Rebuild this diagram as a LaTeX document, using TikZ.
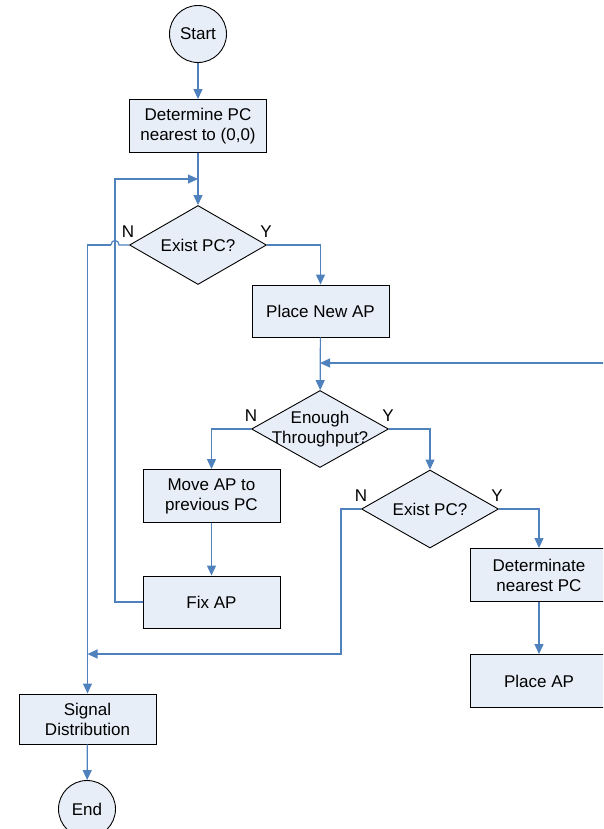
\documentclass[tikz,border=0pt]{standalone}
\usepackage{fontspec}
\setmainfont{Liberation Sans}
\usetikzlibrary{shapes.geometric,arrows.meta}
\definecolor{linkblue}{RGB}{79,129,189}
\definecolor{boxfill}{RGB}{232,238,248}

\begin{document}
\begin{tikzpicture}[x=1pt, y=-1pt,
    every node/.style={font=\fontsize{17}{20}\selectfont},
    proc/.style={draw, fill=boxfill, line width=0.9pt, rectangle, minimum width=137pt, minimum height=53pt, inner sep=0pt, align=center},
    terminal/.style={draw, fill=boxfill, line width=0.9pt, circle, minimum size=57pt, inner sep=0pt},
    decision/.style={draw, fill=boxfill, line width=0.9pt, diamond, minimum width=137pt, minimum height=79pt, inner sep=0pt},
    link/.style={draw=linkblue, line width=1.2pt, -{Triangle[length=10pt,width=9pt]}},
    plainlink/.style={draw=linkblue, line width=1.2pt}]

      \clip (0,0) rectangle (603,829);

      \node[terminal] (start) at (198,34) {Start};
      \node[proc] (det) at (198,126) {Determine PC\\nearest to (0,0)};
      \node[decision, label={center:Exist PC?}] (ex1) at (198,245) {};
      \node[proc, minimum height=52pt] (newap) at (320.5,311) {Place New AP};
      \node[decision, minimum height=77pt, label={[align=center]center:Enough\\Throughput?}] (enough) at (320,429) {};
      \node[proc] (move) at (211.5,496) {Move AP to\\previous PC};
      \node[proc, minimum height=52pt] (fix) at (211.5,602) {Fix AP};
      \node[decision, minimum height=78pt, label={center:Exist PC?}] (ex2) at (430,509) {};
      \node[proc] (detn) at (539,575) {Determinate\\nearest PC};
      \node[proc] (place) at (539,681) {Place AP};
      \node[proc, minimum height=50pt] (sig) at (87.5,719) {Signal\\Distribution};
      \node[terminal] (end) at (87,809) {End};

      \node (n1) at (128,232) {N};
      \node (y1) at (266,232) {Y};
      \node (n2) at (251,416) {N};
      \node (y2) at (388,416) {Y};
      \node (n3) at (361,496) {N};
      \node (y3) at (497,496) {Y};

      \coordinate (loop) at (115,179);
      \coordinate (offright) at (610,363);
      \coordinate (back) at (341,654);

      \draw[link] (start) -- (det);
      \draw[link] (det) -- (ex1);
      \draw[link] (fix.west) -| (loop) -- (ex1.north |- loop);

      \draw[plainlink] (ex1.west) -- (119,245) .. controls (119,239) and (111,239) .. (111,245);
      \draw[link] (111,245) -- (sig.north |- ex1.west) -- (sig.north);
      \draw[link] (ex1.east) -| (newap.north);

      \draw[link] (newap) -- (enough);
      \draw[link] (offright) -- (enough.north |- offright);
      \draw[link] (enough.west) -| (move.north);
      \draw[link] (move) -- (fix);
      \draw[link] (enough.east) -| (ex2.north);

      \draw[link] (ex2.west) -| (back) -- (sig.north |- back);
      \draw[link] (ex2.east) -| (detn.north);
      \draw[link] (detn) -- (place);

      \draw[link] (sig) -- (end);

    \end{tikzpicture}
\end{document}
